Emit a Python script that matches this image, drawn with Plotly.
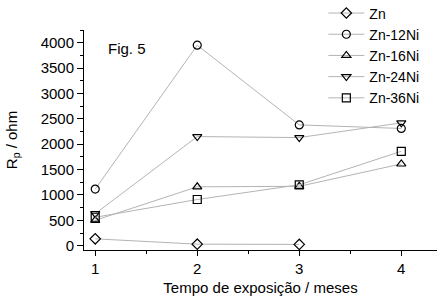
import plotly.graph_objects as go

months = [1, 2, 3, 4]
zn = [135, 30, 25]
zn12 = [1115, 3950, 2380, 2310]
zn16 = [500, 1160, 1170, 1610]
zn24 = [630, 2150, 2130, 2420]
zn36 = [560, 910, 1200, 1860]

series = [
    ("Zn", months[:3], zn, "diamond-open"),
    ("Zn-12Ni", months, zn12, "circle-open"),
    ("Zn-16Ni", months, zn16, "triangle-up-open"),
    ("Zn-24Ni", months, zn24, "triangle-down-open"),
    ("Zn-36Ni", months, zn36, "square-open"),
]

fig = go.Figure()
for name, x, y, sym in series:
    fig.add_trace(go.Scatter(
        x=x, y=y, name=name, mode="lines+markers",
        line=dict(color="#b4b4b4", width=1),
        marker=dict(symbol=sym, size=8, color="black", line=dict(width=1.2, color="black")),
    ))

font = "Liberation Sans, Arial, sans-serif"
fig.update_layout(
    width=444, height=303,
    margin=dict(l=84, r=7, t=30, b=53, autoexpand=False),
    paper_bgcolor="white", plot_bgcolor="white",
    font=dict(family=font, size=15, color="black"),
    showlegend=True,
    legend=dict(x=0.678, y=1.148, xanchor="left", yanchor="top",
                bgcolor="rgba(0,0,0,0)", font=dict(size=14), itemwidth=36,
                tracegroupgap=0),
    xaxis=dict(range=[0.89, 4.35], tickvals=[1, 2, 3, 4], showline=True, linecolor="black",
               linewidth=1, ticks="outside", ticklen=5, tickcolor="black", showgrid=False,
               zeroline=False, tickfont=dict(size=15), automargin=False,
               minor=dict(tickvals=[1.5, 2.5, 3.5], ticks="outside", ticklen=3, tickcolor="black"),
               title=dict(text="Tempo de exposição / meses", font=dict(size=15), standoff=6)),
    yaxis=dict(range=[-85, 4250], tickvals=[0, 500, 1000, 1500, 2000, 2500, 3000, 3500, 4000],
               showline=True, linecolor="black", linewidth=1, ticks="outside", ticklen=6,
               tickcolor="black", showgrid=False, zeroline=False, tickfont=dict(size=15),
               automargin=False,
               minor=dict(dtick=250, ticks="outside", ticklen=3, tickcolor="black"),
               title=dict(text="R<sub>p</sub> / ohm", font=dict(size=15), standoff=19)),
    annotations=[dict(text="Fig. 5", x=(106 - 84) / 353, y=(250 - 49) / 220, xref="paper", yref="paper",
                      showarrow=False, xanchor="left", yanchor="middle", font=dict(size=15))],
)
fig.write_html("out.html", config={"displayModeBar": False},
               post_script="document.body.style.margin='0';document.body.style.padding='0';")
